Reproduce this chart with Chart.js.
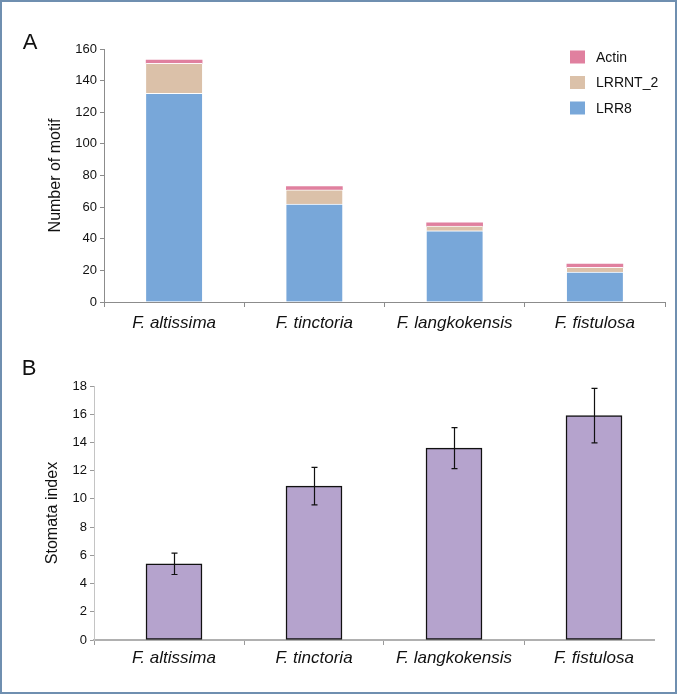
<!DOCTYPE html>
<html>
<head>
<meta charset="utf-8">
<script src="https://cdn.jsdelivr.net/npm/chart.js@4/dist/chart.umd.min.js"></script>
<style>
html,body{margin:0;padding:0;background:#fff;}
#page{position:relative;width:677px;height:694px;background:#fff;overflow:hidden;}
#wa{position:absolute;left:0;top:0;width:677px;height:345px;}
#wb{position:absolute;left:0;top:345px;width:677px;height:349px;}
#frame{position:absolute;left:0;top:0;width:677px;height:694px;box-sizing:border-box;border:2px solid #6f8fb0;pointer-events:none;}
</style>
</head>
<body>
<div id="page">
  <div id="wa"><canvas id="ca"></canvas></div>
  <div id="wb"><canvas id="cb"></canvas></div>
  <div id="frame"></div>
</div>
<script>
// ---- data ----
const categories = ['F. altissima', 'F. tinctoria', 'F. langkokensis', 'F. fistulosa'];
const seriesNames = ['LRR8', 'LRRNT_2', 'Actin'];
const lrr8 = [132, 62, 45, 19];
const lrrnt2 = [19, 9, 3, 3];
const actin = [2, 2, 2, 2];
const stomataIndex = [5.4, 10.9, 13.6, 15.9];
const stomataError = [0.76, 1.33, 1.45, 1.93];
const motifAxisMax = 160;
const motifStep = 20;
const stomataAxisMax = 18;
const stomataStep = 2;

const FONT = "'Liberation Sans', Arial, Helvetica, sans-serif";
Chart.defaults.font.family = FONT;
Chart.defaults.color = '#111';

const colors = {LRR8: '#78a7d9', LRRNT_2: '#dbc1a9', Actin: '#e0809f'};

// Panel letter + legend for chart A
const panelA = {
  id: 'panelA',
  afterDraw(chart) {
    const ctx = chart.ctx;
    ctx.save();
    ctx.fillStyle = '#111';
    ctx.font = '22px ' + FONT;
    ctx.textAlign = 'center';
    ctx.textBaseline = 'middle';
    ctx.fillText('A', 30, 43);
    // legend (reverse order)
    const ds = chart.data.datasets.slice().reverse();
    ctx.font = '14px ' + FONT;
    ctx.textAlign = 'left';
    ds.forEach((d, k) => {
      const cy = 57 + k * 25.5;
      ctx.fillStyle = d.backgroundColor;
      ctx.fillRect(570, cy - 6.5, 15, 13);
      ctx.fillStyle = '#111';
      ctx.fillText(d.label, 596, cy + 1);
    });
    ctx.restore();
  }
};

const chartA = new Chart(document.getElementById('ca'), {
  type: 'bar',
  data: {
    labels: categories,
    datasets: [
      {label: seriesNames[0], data: lrr8, backgroundColor: colors.LRR8, borderColor: 'rgba(255,255,255,0.9)', borderWidth: {top: 1, left: 0, right: 0, bottom: 0}, borderSkipped: false, barThickness: 56},
      {label: seriesNames[1], data: lrrnt2, backgroundColor: colors.LRRNT_2, borderColor: 'rgba(255,255,255,0.9)', borderWidth: {top: 1, left: 0, right: 0, bottom: 0}, borderSkipped: false, barThickness: 56},
      {label: seriesNames[2], data: actin, backgroundColor: colors.Actin, borderWidth: 0, barThickness: 56}
    ]
  },
  options: {
    responsive: true,
    maintainAspectRatio: false,
    animation: false,
    layout: {padding: {left: 42, right: 12, top: 49, bottom: 0}},
    plugins: {legend: {display: false}, tooltip: {enabled: false}},
    scales: {
      x: {
        stacked: true,
        offset: true,
        grid: {display: true, offset: true, drawOnChartArea: false, drawTicks: true, tickLength: 5, color: '#8c8c8c'},
        border: {display: true, color: '#8c8c8c', width: 1},
        ticks: {font: {size: 17, style: 'italic'}, color: '#111', padding: 6, maxRotation: 0, autoSkip: false},
        afterFit(s) { s.height = 43; }
      },
      y: {
        stacked: true,
        min: 0,
        max: motifAxisMax,
        ticks: {stepSize: motifStep, font: {size: 13}, color: '#111', padding: 3},
        grid: {drawOnChartArea: false, drawTicks: true, tickLength: 4, color: '#8c8c8c'},
        border: {display: true, color: '#8c8c8c', width: 1},
        title: {display: true, text: 'Number of motif', font: {size: 16}, color: '#111', padding: {top: 4, bottom: 4}},
        afterFit(s) { s.width = 62; }
      }
    }
  },
  plugins: [panelA]
});

// chart B: error bars + panel letter
const errorBars = {
  id: 'errorBars',
  afterDatasetsDraw(chart) {
    const ctx = chart.ctx;
    const meta = chart.getDatasetMeta(0);
    const ys = chart.scales.y;
    ctx.save();
    ctx.strokeStyle = '#111';
    ctx.lineWidth = 1.2;
    meta.data.forEach((bar, i) => {
      const v = stomataIndex[i], e = stomataError[i];
      const x = Math.round(bar.x) + 0.5;
      const yt = ys.getPixelForValue(v + e);
      const yb = ys.getPixelForValue(v - e);
      ctx.beginPath();
      ctx.moveTo(x, yt); ctx.lineTo(x, yb);
      ctx.moveTo(x - 3, yt); ctx.lineTo(x + 3, yt);
      ctx.moveTo(x - 3, yb); ctx.lineTo(x + 3, yb);
      ctx.stroke();
    });
    ctx.restore();
  },
  afterDraw(chart) {
    const ctx = chart.ctx;
    ctx.save();
    ctx.fillStyle = '#111';
    ctx.font = '22px ' + FONT;
    ctx.textAlign = 'center';
    ctx.textBaseline = 'middle';
    ctx.fillText('B', 29, 24);
    ctx.restore();
  }
};

const xMinB = -4 / 7;
const xMaxB = 24 / 7;
const chartB = new Chart(document.getElementById('cb'), {
  type: 'bar',
  data: {
    datasets: [{
      label: 'Stomata index',
      data: stomataIndex.map((v, i) => ({x: i, y: v})),
      backgroundColor: '#b5a3cd',
      borderColor: '#111',
      borderWidth: 1.5,
      borderSkipped: false,
      barThickness: 56
    }]
  },
  options: {
    responsive: true,
    maintainAspectRatio: false,
    animation: false,
    layout: {padding: {left: 39, right: 23, top: 41, bottom: 0}},
    plugins: {legend: {display: false}, tooltip: {enabled: false}},
    scales: {
      x: {
        type: 'linear',
        offset: false,
        min: xMinB,
        max: xMaxB,
        afterBuildTicks(s) {
          const t = [{value: xMinB}];
          categories.forEach((c, i) => {
            t.push({value: i});
            if (i < categories.length - 1) t.push({value: i + 0.5});
          });
          s.ticks = t;
        },
        ticks: {
          autoSkip: false,
          maxRotation: 0,
          font: {size: 17, style: 'italic'},
          color: '#111',
          padding: 3,
          callback: (v) => Number.isInteger(v) ? categories[v] : ''
        },
        grid: {
          offset: false,
          drawOnChartArea: false,
          drawTicks: true,
          tickLength: 5,
          color: (c) => (c.tick && Number.isInteger(c.tick.value)) ? 'rgba(0,0,0,0)' : '#9a9a9a'
        },
        border: {display: true, color: '#b0b0b0', width: 2},
        afterFit(s) { s.height = 54; }
      },
      y: {
        min: 0,
        max: stomataAxisMax,
        ticks: {stepSize: stomataStep, font: {size: 13}, color: '#111', padding: 3},
        grid: {drawOnChartArea: false, drawTicks: true, tickLength: 4, color: '#9a9a9a'},
        border: {display: true, color: '#c4c4c4', width: 1},
        title: {display: true, text: 'Stomata index', font: {size: 16}, color: '#111', padding: {top: 4, bottom: 4}},
        afterFit(s) { s.width = 55; }
      }
    }
  },
  plugins: [errorBars]
});
</script>
</body>
</html>
